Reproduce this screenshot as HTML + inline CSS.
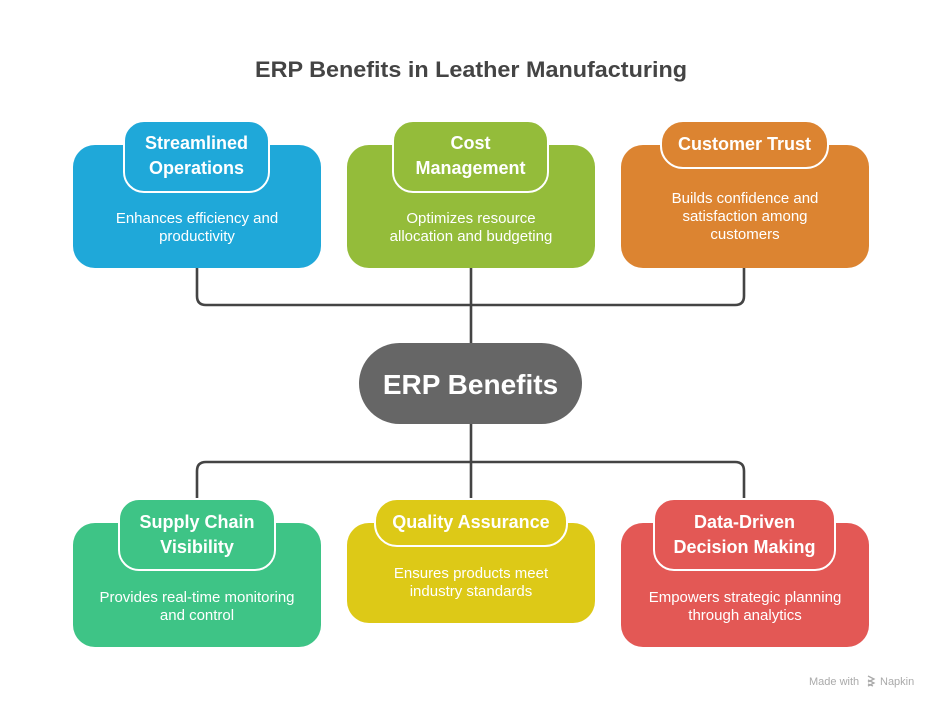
<!DOCTYPE html>
<html>
<head>
<meta charset="utf-8">
<style>
html,body{margin:0;padding:0;background:#fff;}
body{width:942px;height:709px;overflow:hidden;}
svg{display:block;font-family:"Liberation Sans",Arial,sans-serif;}
.lbl{font-weight:bold;font-size:18px;fill:#fff;text-anchor:middle;}
.desc{font-size:15px;fill:#fff;text-anchor:middle;}
</style>
</head>
<body>
<svg width="942" height="709" viewBox="0 0 942 709" xmlns="http://www.w3.org/2000/svg">
  <rect width="942" height="709" fill="#fff"/>
  <text x="471" y="77" text-anchor="middle" font-size="22" font-weight="bold" fill="#444" textLength="432" lengthAdjust="spacingAndGlyphs">ERP Benefits in Leather Manufacturing</text>

  <!-- connectors -->
  <g fill="none" stroke="#444" stroke-width="2.6">
    <path d="M197,266 V296 Q197,305 206,305 H735 Q744,305 744,296 V266"/>
    <path d="M471,266 V345"/>
    <path d="M471,422 V501"/>
    <path d="M197,501 V471 Q197,462 206,462 H735 Q744,462 744,471 V501"/>
  </g>

  <!-- Top row -->
  <rect x="73" y="145" width="248" height="123" rx="22" fill="#1FA8D9"/>
  <rect x="124" y="121" width="145" height="71" rx="20" fill="#1FA8D9" stroke="#fff" stroke-width="2"/>
  <text class="lbl" x="196.5" y="149">Streamlined</text>
  <text class="lbl" x="196.5" y="174">Operations</text>
  <text class="desc" x="197" y="223">Enhances efficiency and</text>
  <text class="desc" x="197" y="241">productivity</text>

  <rect x="347" y="145" width="248" height="123" rx="22" fill="#94BC3A"/>
  <rect x="393" y="121" width="155" height="71" rx="20" fill="#94BC3A" stroke="#fff" stroke-width="2"/>
  <text class="lbl" x="470.5" y="149">Cost</text>
  <text class="lbl" x="470.5" y="174">Management</text>
  <text class="desc" x="471" y="223">Optimizes resource</text>
  <text class="desc" x="471" y="241">allocation and budgeting</text>

  <rect x="621" y="145" width="248" height="123" rx="22" fill="#DC8431"/>
  <rect x="661" y="121" width="167" height="47" rx="22" fill="#DC8431" stroke="#fff" stroke-width="2"/>
  <text class="lbl" x="744.5" y="150">Customer Trust</text>
  <text class="desc" x="745" y="203">Builds confidence and</text>
  <text class="desc" x="745" y="221">satisfaction among</text>
  <text class="desc" x="745" y="239">customers</text>

  <!-- center -->
  <rect x="359" y="343" width="223" height="81" rx="40.5" fill="#666"/>
  <text x="470.5" y="394" text-anchor="middle" font-size="28" font-weight="bold" fill="#fff">ERP Benefits</text>

  <!-- Bottom row -->
  <rect x="73" y="523" width="248" height="124" rx="22" fill="#3EC486"/>
  <rect x="119" y="499" width="156" height="71" rx="20" fill="#3EC486" stroke="#fff" stroke-width="2"/>
  <text class="lbl" x="197" y="528">Supply Chain</text>
  <text class="lbl" x="197" y="553">Visibility</text>
  <text class="desc" x="197" y="602">Provides real-time monitoring</text>
  <text class="desc" x="197" y="620">and control</text>

  <rect x="347" y="523" width="248" height="100" rx="22" fill="#DDC917"/>
  <rect x="375" y="499" width="192" height="47" rx="22" fill="#DDC917" stroke="#fff" stroke-width="2"/>
  <text class="lbl" x="471" y="528">Quality Assurance</text>
  <text class="desc" x="471" y="578">Ensures products meet</text>
  <text class="desc" x="471" y="596">industry standards</text>

  <rect x="621" y="523" width="248" height="124" rx="22" fill="#E35855"/>
  <rect x="654" y="499" width="181" height="71" rx="20" fill="#E35855" stroke="#fff" stroke-width="2"/>
  <text class="lbl" x="744.5" y="528">Data-Driven</text>
  <text class="lbl" x="744.5" y="553">Decision Making</text>
  <text class="desc" x="745" y="602">Empowers strategic planning</text>
  <text class="desc" x="745" y="620">through analytics</text>

  <!-- watermark -->
  <text x="809" y="685" font-size="11" fill="#aaa">Made with</text>
  <g fill="none" stroke="#aaa" stroke-width="1.3">
    <path d="M868,676 l6,3 l-6,3 M868,680 l6,3 l-6,3 M868,684 l5,2"/>
  </g>
  <text x="880" y="685" font-size="11" fill="#aaa">Napkin</text>
</svg>
</body>
</html>
